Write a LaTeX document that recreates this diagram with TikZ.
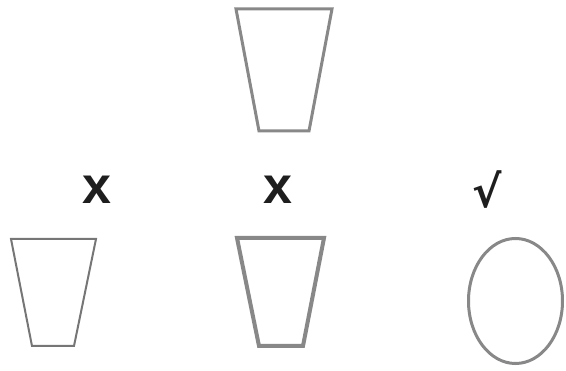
\documentclass[tikz,border=0pt]{standalone}
\usepackage{fontspec}
\setmainfont{Liberation Sans}
\newfontfamily\symfont{DejaVu Sans}
\usepackage{tikz}
\usetikzlibrary{positioning}
\definecolor{cupgray}{RGB}{136,136,136}
\definecolor{thingray}{RGB}{118,118,118}
\definecolor{markblack}{RGB}{30,30,30}

\tikzset{
  cup/.style={draw=cupgray, line width=3pt, line join=miter},
  wrongmark/.style={font=\fontsize{52}{54}\selectfont\bfseries, text=markblack, inner sep=0pt},
  rightmark/.style={font=\symfont\fontsize{44}{46}\selectfont\bfseries, text=markblack, inner sep=0pt}
}

\begin{document}
\begin{tikzpicture}[x=1pt, y=-1pt]
  \useasboundingbox (0,0) rectangle (566,371);

  % top cup
  \draw[cup] (236,9) -- (332,9) -- (309,131) -- (259,131) -- cycle;

  % bottom row
  \draw[cup, draw=thingray, line width=2pt] (11,239) -- (96,239) -- (74,346) -- (32,346) -- cycle;
  \draw[cup, line width=4pt] (237,238) -- (324,238) -- (303,346) -- (259,346) -- cycle;
  \draw[cup] (515.5,301) ellipse [x radius=47, y radius=62.5];

  % marks
  \node[wrongmark] (markl) at (97,190) {x};
  \node[wrongmark] (markm) at (278,190) {x};
  \node[rightmark] (markr) at (487,190) {√};
\end{tikzpicture}
\end{document}
